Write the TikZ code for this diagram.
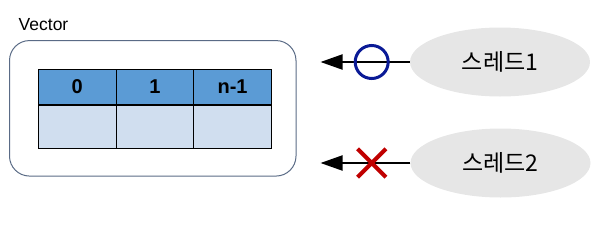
\documentclass[tikz,border=0pt]{standalone}
\usepackage{fontspec}
\setmainfont{Liberation Sans}
\newfontfamily\krfont{Noto Sans CJK KR}
\usetikzlibrary{arrows.meta,shapes.geometric}
\definecolor{hdrblue}{HTML}{5B9BD5}
\definecolor{cellblue}{HTML}{D0DEEF}
\definecolor{boxedge}{HTML}{5A6B86}
\definecolor{ellgray}{HTML}{E6E6E6}
\definecolor{okblue}{HTML}{0A1A96}
\definecolor{ngred}{HTML}{C00000}
\tikzset{
  hdrcell/.style={draw=black, line width=1pt, fill=hdrblue, minimum width=77.7pt, minimum height=35.3pt, inner sep=0pt, font=\fontsize{20}{24}\selectfont\bfseries},
  bodycell/.style={draw=black, line width=1pt, fill=cellblue, minimum width=77.7pt, minimum height=43.3pt, inner sep=0pt},
  thread/.style={ellipse, fill=ellgray, minimum width=180pt, minimum height=69pt, inner sep=0pt, font=\krfont\fontsize{23}{26}\selectfont},
  conn/.style={line width=2pt, -{Triangle[length=22pt,width=15pt]}},
}
\begin{document}
\begin{tikzpicture}[x=1pt,y=-1pt]
\useasboundingbox (0,0) rectangle (613,228);
\node[draw=boxedge, line width=1pt, rounded corners=20pt, minimum width=286.5pt, minimum height=135.5pt, inner sep=0pt] (vec) at (152.75,108.3) {};
\node[anchor=west, font=\fontsize{17.5}{20}\selectfont, inner sep=0pt] (veclabel) at (18.5,25) {Vector};
\node[hdrcell] (h0) at (77.2,86.7) {0};
\node[hdrcell] (h1) at (154.9,86.7) {1};
\node[hdrcell] (h2) at (232.6,86.7) {n-1};
\node[bodycell, anchor=north] (b0) at (h0.south) {};
\node[bodycell, anchor=north] (b1) at (h1.south) {};
\node[bodycell, anchor=north] (b2) at (h2.south) {};
\node[thread] (t1) at (500,62) {스레드1};
\node[thread] (t2) at (500.5,163) {스레드2};
\coordinate (e1) at (320.5,62);
\coordinate (e2) at (320.5,163);
\draw[conn] (t1.west) -- (e1);
\draw[conn] (t2.west) -- (e2);
\node[circle, draw=okblue, line width=3pt, minimum size=33pt, inner sep=0pt] (ok) at (371.7,62) {};
\node[inner sep=0pt, minimum size=28pt] (ng) at (371.7,163) {};
\draw[ngred, line width=4pt] (ng.north west) -- (ng.south east) (ng.north east) -- (ng.south west);
\end{tikzpicture}
\end{document}
